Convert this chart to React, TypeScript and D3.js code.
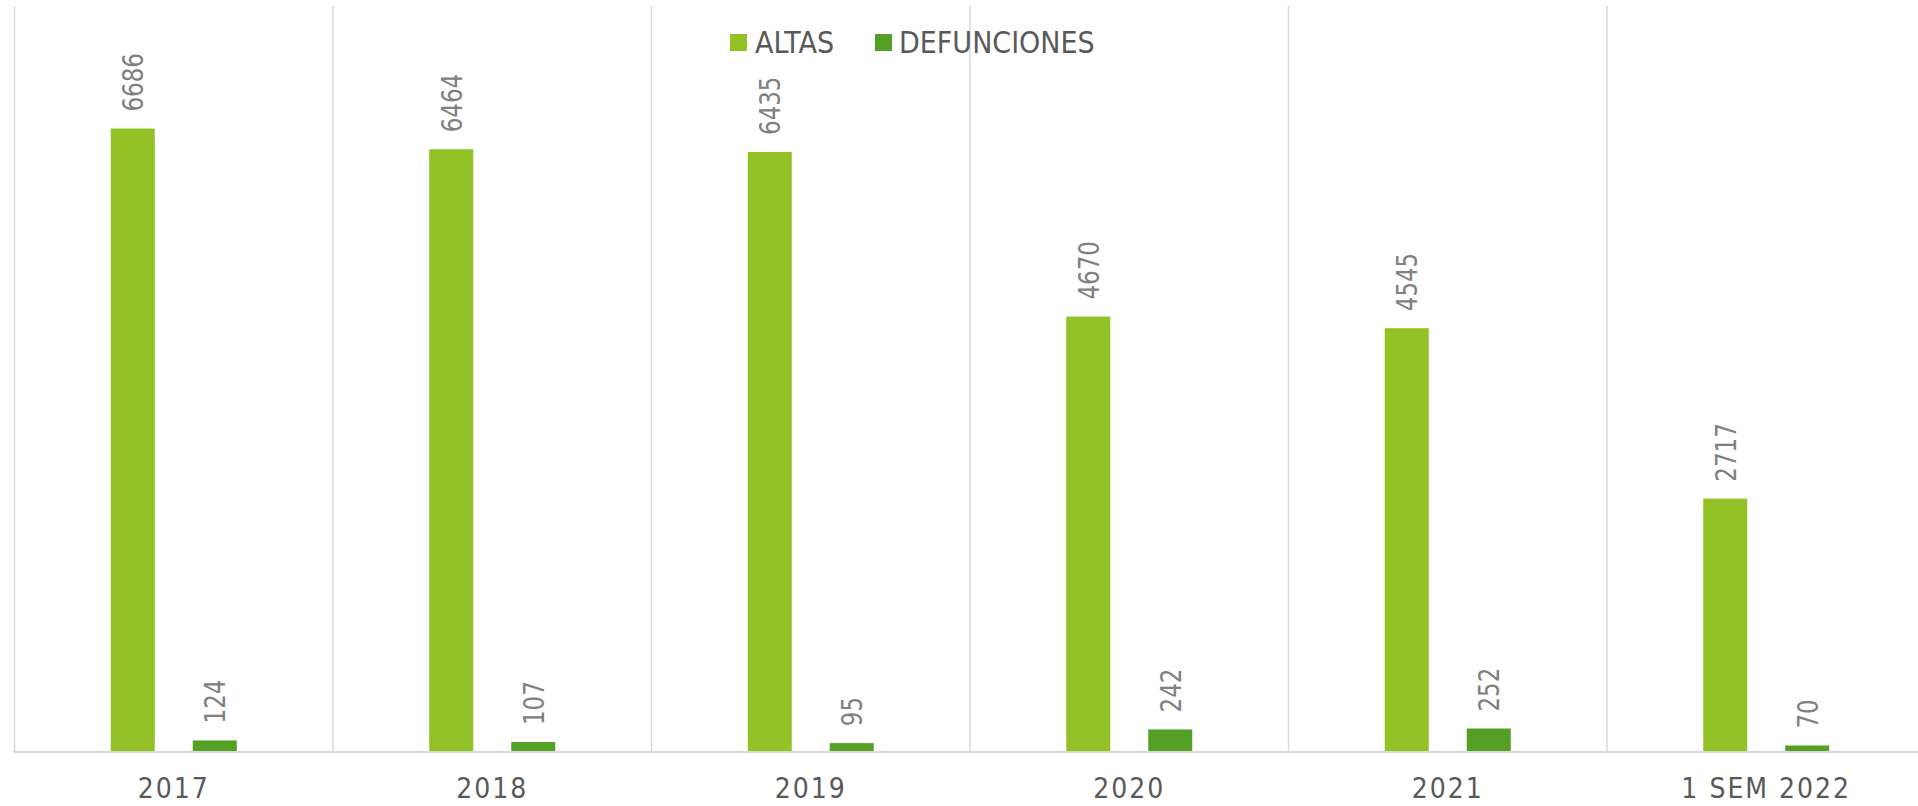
import React from "react";
import * as d3 from "d3";

const categories = ["2017", "2018", "2019", "2020", "2021", "1 SEM 2022"];
const series = ["ALTAS", "DEFUNCIONES"];
const altas = [6686, 6464, 6435, 4670, 4545, 2717];
const defunciones = [124, 107, 95, 242, 252, 70];
const colors = ["#92C226", "#54A024"];
const yMax = 8000;

const W = 1918;
const H = 806;
const FONT = "'DejaVu Sans Condensed', 'DejaVu Sans', sans-serif";

export default function App() {
  const plotLeft = 14.5;
  const bandW = 318.5;
  const plotTop = 6;
  const plotBottom = 752;

  const x = d3
    .scaleBand<string>()
    .domain(categories)
    .range([plotLeft, plotLeft + bandW * categories.length])
    .paddingInner(0)
    .paddingOuter(0);

  const xs = d3
    .scaleBand<string>()
    .domain(series)
    .range([0, x.bandwidth()])
    .paddingInner(0.4634)
    .paddingOuter(1.174);

  const y = d3.scaleLinear().domain([0, yMax]).range([plotBottom, plotTop]);

  const data = [altas, defunciones];

  return (
    <svg
      width={W}
      height={H}
      style={{ position: "absolute", left: 0, top: 0, background: "#fff" }}
      fontFamily={FONT}
    >
      {/* vertical category gridlines */}
      {categories.map((c, i) => (
        <line
          key={"g" + i}
          x1={x(c)!}
          x2={x(c)!}
          y1={plotTop}
          y2={plotBottom}
          stroke="#d9d9d9"
          strokeWidth={1.5}
        />
      ))}
      {/* bars */}
      {series.map((s, si) =>
        categories.map((c, ci) => {
          const v = data[si][ci];
          const bx = x(c)! + xs(s)!;
          const by = y(v);
          const cx = bx + xs.bandwidth() / 2;
          const ly = by - 17;
          return (
            <g key={s + c}>
              <rect
                x={bx}
                y={by}
                width={xs.bandwidth()}
                height={plotBottom - by}
                fill={colors[si]}
              />
              <text
                transform={`translate(${cx + 10.5},${ly}) rotate(-90) scale(0.88,1)`}
                fontSize={29}
                fill="#808080"
                textAnchor="start"
              >
                {v}
              </text>
            </g>
          );
        })
      )}
      {/* baseline */}
      <line
        x1={plotLeft - 1}
        x2={W}
        y1={plotBottom}
        y2={plotBottom}
        stroke="#d9d9d9"
        strokeWidth={2}
      />
      {/* category labels */}
      {categories.map((c) => (
        <text
          key={"l" + c}
          x={x(c)! + x.bandwidth() / 2}
          y={798}
          fontSize={28}
          letterSpacing={2}
          fill="#595959"
          textAnchor="middle"
        >
          {c}
        </text>
      ))}
      {/* legend */}
      {[
        { sx: 730, tx: 755 },
        { sx: 875, tx: 899 },
      ].map((p, i) => (
        <g key={"leg" + i}>
          <rect x={p.sx} y={34} width={17} height={17} fill={colors[i]} />
          <text x={p.tx} y={52.5} fontSize={30} fill="#595959">
            {series[i]}
          </text>
        </g>
      ))}
    </svg>
  );
}
